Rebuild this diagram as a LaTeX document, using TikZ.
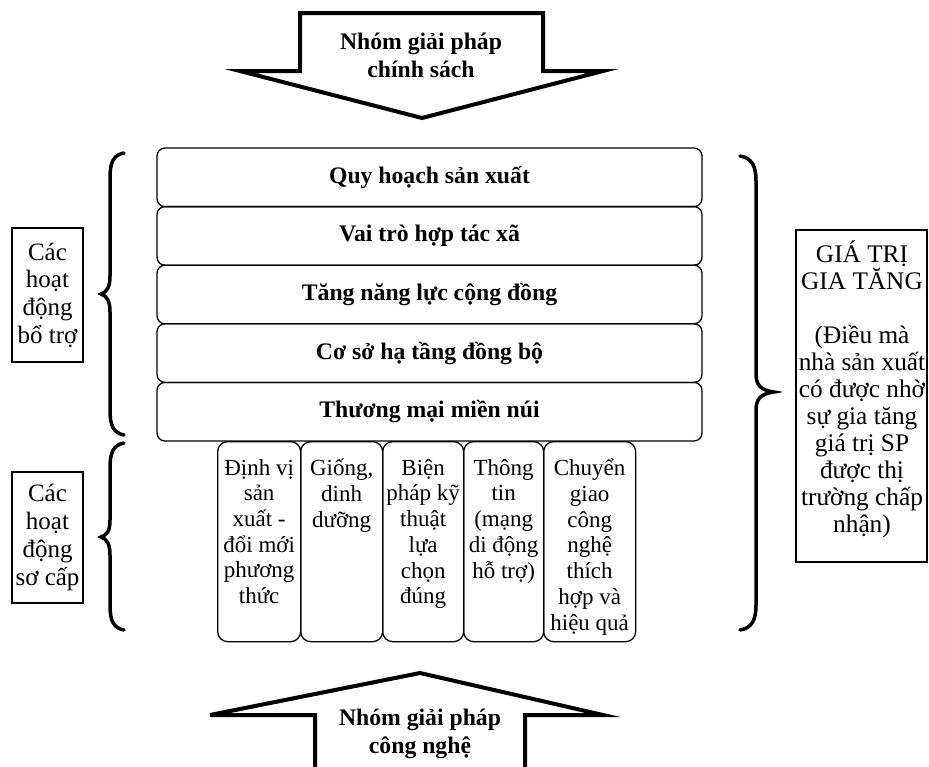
\documentclass[tikz,border=0pt]{standalone}
\usepackage{fontspec}
\setmainfont{Liberation Serif}
\begin{document}
\begin{tikzpicture}[x=1pt,y=-1pt,
  row/.style={draw, line width=1.3pt, rounded corners=8pt, minimum width=545pt, minimum height=58.6pt, font=\fontsize{23.7}{27}\selectfont\bfseries, inner sep=0pt},
  sub/.style={draw, line width=1.3pt, rounded corners=10pt, minimum height=200pt, anchor=north west, inner sep=0pt},
  subtxt/.style={anchor=north, align=center, font=\fontsize{23}{25.7}\selectfont, inner sep=0pt},
  side/.style={draw, line width=1.2pt, align=center, font=\fontsize{25}{27.7}\selectfont, inner sep=0pt},
  sidetxt/.style={align=center, font=\fontsize{25.3}{27}\selectfont, inner sep=0pt},
  bigarrow/.style={draw, line width=4pt, fill=white, line join=miter},
  arrtxt/.style={align=center, font=\fontsize{23.7}{28}\selectfont\bfseries, inner sep=0pt},
  brace/.style={line width=3.5pt, line cap=round}
]
\useasboundingbox (0,0) rectangle (929,766);

% top arrow
\draw[bigarrow] (300,13) -- (543,13) -- (543,71) -- (603,71) -- (422,118) -- (240,71) -- (300,71) -- cycle;
\node[arrtxt] (topt) at (421,55) {Nhóm giải pháp\\chính sách};

% bottom arrow
\draw[bigarrow] (315,775) -- (315,715) -- (210,715) -- (420,673) -- (603,715) -- (525,715) -- (525,775);
\node[arrtxt] (bott) at (420,734) {Nhóm giải pháp\\công nghệ};

% main rows
\node[row] (r1) at (429.5,177.3) {Quy hoạch sản xuất};
\node[row] (r2) at (429.5,235.9) {Vai trò hợp tác xã};
\node[row] (r3) at (429.5,294.5) {Tăng năng lực cộng đồng};
\node[row] (r4) at (429.5,353.1) {Cơ sở hạ tầng đồng bộ};
\node[row] (r5) at (429.5,411.7) {Thương mại miền núi};

% sub boxes
\node[sub, minimum width=83pt] (b1) at (217,441) {};
\node[sub, minimum width=82pt] (b2) at (300,441) {};
\node[sub, minimum width=81pt] (b3) at (382,441) {};
\node[sub, minimum width=80pt] (b4) at (463,441) {};
\node[sub, minimum width=92pt] (b5) at (543,441) {};
\node[subtxt] (t1) at ([yshift=-18pt]b1.north) {Định vị\\sản\\xuất -\\đổi mới\\phương\\thức};
\node[subtxt] (t2) at ([yshift=-18pt]b2.north) {Giống,\\dinh\\dưỡng};
\node[subtxt] (t3) at ([yshift=-18pt]b3.north) {Biện\\pháp kỹ\\thuật\\lựa\\chọn\\đúng};
\node[subtxt] (t4) at ([yshift=-18pt]b4.north) {Thông\\tin\\(mạng\\di động\\hỗ trợ)};
\node[subtxt] (t5) at ([yshift=-18pt]b5.north) {Chuyển\\giao\\công\\nghệ\\thích\\hợp và\\hiệu quả};

% side boxes
\node[side, minimum width=71pt, minimum height=134pt] (l1) at (47.5,295) {Các\\hoạt\\động\\bổ trợ};
\node[side, minimum width=71pt, minimum height=131pt] (l2) at (47.5,537.5) {Các\\hoạt\\động\\sơ cấp};
\node[side, minimum width=131pt, minimum height=332pt] (rv) at (861.5,396) {};
\node[sidetxt] (rvt) at (862,389) {GIÁ TRỊ\\GIA TĂNG\\[27pt](Điều mà\\nhà sản xuất\\có được nhờ\\sự gia tăng\\giá trị SP\\được thị\\trường chấp\\nhận)};

% braces
\draw[brace] (124,153) .. controls (113,155) and (110,163) .. (110,178) -- (110,276)
  .. controls (110,287) and (107,292) .. (101,294)
  .. controls (107,296) and (110,301) .. (110,312) -- (110,410)
  .. controls (110,425) and (113,433) .. (124,435);
\draw[brace] (124,443) .. controls (113,445) and (110,453) .. (110,468) -- (110,520)
  .. controls (110,531) and (107,535) .. (101,537)
  .. controls (107,539) and (110,544) .. (110,555) -- (110,605)
  .. controls (110,620) and (113,628) .. (124,630);
\draw[brace] (740,156) .. controls (752,158) and (756,166) .. (756,181) -- (756,373)
  .. controls (756,385) and (760,390) .. (774,392)
  .. controls (760,394) and (756,399) .. (756,411) -- (756,605)
  .. controls (756,620) and (752,628) .. (740,630);
\end{tikzpicture}
\end{document}
